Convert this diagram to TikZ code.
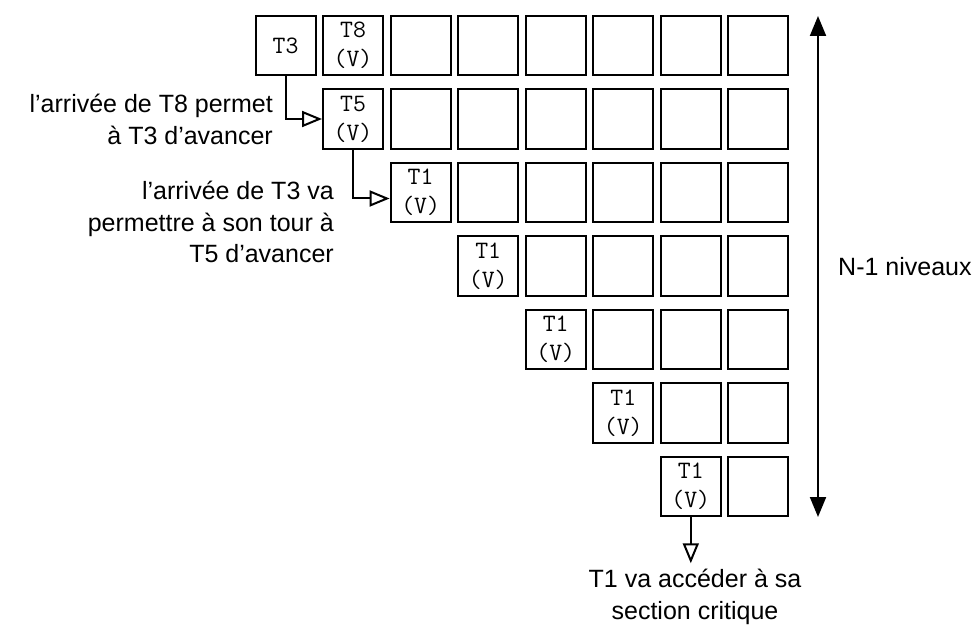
\documentclass[tikz,border=0pt]{standalone}
\usepackage{fontspec}
\setmainfont{Liberation Sans}
\usetikzlibrary{arrows.meta}
\tikzstyle{cell} = [rectangle, minimum width=60pt, minimum height=59.5pt, inner sep=0pt, align=center, draw=black, line width=2pt, font=\ttfamily\fontsize{25}{29}\selectfont]
\tikzstyle{note} = [inner sep=0pt, font=\fontsize{25}{31.5}\selectfont]
\tikzstyle{arrow} = [line width=2pt, -{Triangle[open, length=20pt, width=16pt]}]
\tikzstyle{bigarrow} = [line width=2pt, {Triangle[length=20pt, width=16pt]}-{Triangle[length=20pt, width=16pt]}]

\begin{document}
\begin{tikzpicture}[x=1pt, y=-1pt]
\useasboundingbox (0,0) rectangle (976,636);

% Nodes
\node (t3) [cell] at (285.5,45.5) {T3};
\node (t8) [cell] at (353,45.5) {T8\\(V)};
\node (t5) [cell] at (353,119) {T5\\(V)};
\node (t1a) [cell] at (420.6,192.5) {T1\\(V)};
\node (t1b) [cell] at (488.2,266) {T1\\(V)};
\node (t1c) [cell] at (555.7,339.5) {T1\\(V)};
\node (t1d) [cell] at (623.3,413) {T1\\(V)};
\node (t1e) [cell] at (690.8,486.5) {T1\\(V)};

% empty cells
\foreach \r/\first in {0/2,1/2,2/3,3/4,4/5,5/6,6/7}
  \foreach \c in {\first,...,7}
    \node (cell\r\c) [cell] at ({285.5+67.55*\c},{45.5+73.5*\r}) {};

\node (noteT8) [note, align=right, anchor=east] at (273,119.5) {l’arrivée de T8 permet\\à T3 d’avancer};
\node (noteT3) [note, align=right, anchor=east] at (334,222) {l’arrivée de T3 va\\permettre à son tour à\\T5 d’avancer};
\node (critique) [note, align=center] at (695,597) {T1 va accéder à sa\\section critique};
\node (niveaux) [note, anchor=west] at (838,267) {N-1 niveaux};
\coordinate (haut) at (818,16);
\coordinate (bas) at (818,517);

% Arrows
\draw [arrow] (t3.south) |- (t5.west);
\draw [arrow] (t5.south) |- ([yshift=-6pt]t1a.west);
\draw [arrow] (t1e.south) -- ([yshift=6pt]t1e.south |- critique.north);
\draw [bigarrow] (haut) -- (bas);

\end{tikzpicture}
\end{document}
